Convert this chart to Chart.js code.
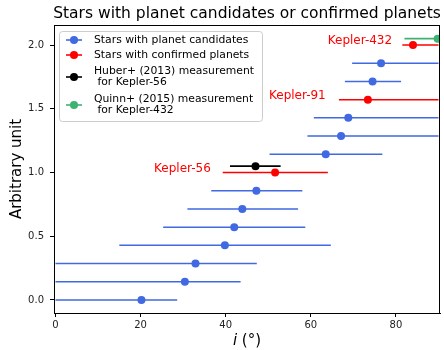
<!DOCTYPE html>
<html>
<head>
<meta charset="utf-8">
<script src="https://cdn.jsdelivr.net/npm/chart.js@4"></script>
<style>
  body { margin: 0; background: #fff; }
  #wrap { width: 444px; height: 350px; }
</style>
</head>
<body>
<div id="wrap"><canvas id="chartStars" width="444" height="350"></canvas></div>
<script>
// stars with planet candidates
var candRow = [0.0, 0.143, 0.286, 0.429, 0.571, 0.714, 0.857, 1.143, 1.286, 1.429, 1.714, 1.857];
var candInc = [20.2, 30.4, 32.9, 39.8, 42.0, 43.9, 47.2, 63.5, 67.1, 68.8, 74.5, 76.5];
var candLow = [0, 0, 0, 15.0, 25.3, 31.0, 36.6, 50.3, 59.2, 60.7, 68.0, 69.7];
var candHigh = [28.6, 43.5, 47.3, 64.7, 58.7, 57.0, 58.0, 76.8, 90, 90, 81.2, 90];

// stars with confirmed planets
var confNames = ['Kepler-56', 'Kepler-91', 'Kepler-432'];
var confRow = [1.0, 1.571, 2.0];
var confInc = [51.6, 73.4, 84.0];
var confLow = [39.3, 66.6, 81.5];
var confHigh = [64.0, 90, 90];

// Huber+ (2013), Kepler-56
var huberRow = [1.05];
var huberInc = [47.0];
var huberLow = [41.0];
var huberHigh = [52.9];

// Quinn+ (2015), Kepler-432
var quinnRow = [2.05];
var quinnInc = [89.8];
var quinnLow = [82.0];
var quinnHigh = [90];

var xTicks = [0, 20, 40, 60, 80];
var yTicks = [0, 0.5, 1.0, 1.5, 2.0];

var FONT = 'DejaVu Sans';

function pts(xs, ys, lo, hi){
    return xs.map(function(x, i){ return {x: x, y: ys[i], lo: lo[i], hi: hi[i]}; });
}

var series = [
    {label: 'Stars with planet candidates', color: '#4169e1', data: pts(candInc, candRow, candLow, candHigh)},
    {label: 'Stars with confirmed planets', color: '#ff0000', data: pts(confInc, confRow, confLow, confHigh)},
    {label: 'Huber+ (2013) measurement\n for Kepler-56', color: '#000000', data: pts(huberInc, huberRow, huberLow, huberHigh)},
    {label: 'Quinn+ (2015) measurement\n for Kepler-432', color: '#3cb371', data: pts(quinnInc, quinnRow, quinnLow, quinnHigh)}
];

// where the red names sit (right end of text, data coords)
var nameAnchorX = [36.5, 63.5, 79.1];

var errorBars = {
    id: 'errorBars',
    beforeDatasetsDraw: function(chart){
        var c = chart.ctx, a = chart.chartArea;
        var xs = chart.scales.x, ys = chart.scales.y;
        c.save();
        c.beginPath();
        c.rect(a.left, a.top, a.right - a.left, a.bottom - a.top);
        c.clip();
        c.lineWidth = 1.6;
        series.forEach(function(s){
            c.strokeStyle = s.color;
            s.data.forEach(function(p){
                var py = ys.getPixelForValue(p.y);
                c.beginPath();
                c.moveTo(xs.getPixelForValue(p.lo), py);
                c.lineTo(xs.getPixelForValue(p.hi), py);
                c.stroke();
            });
        });
        c.restore();
    },
    afterDraw: function(chart){
        var c = chart.ctx, a = chart.chartArea;
        var xs = chart.scales.x, ys = chart.scales.y;
        c.save();
        // frame
        c.strokeStyle = '#000';
        c.lineWidth = 1;
        c.strokeRect(Math.round(a.left) + 0.5, Math.round(a.top) + 0.5,
            Math.round(a.right - a.left) - 1, Math.round(a.bottom - a.top));

        // title
        c.fillStyle = '#000';
        c.font = '15.5px "' + FONT + '"';
        c.textAlign = 'center';
        c.textBaseline = 'middle';
        c.fillText('Stars with planet candidates or confirmed planets', (a.left + a.right) / 2, 14);

        // axis titles
        c.font = '15px "' + FONT + '"';
        c.save();
        c.translate(17, (a.top + a.bottom) / 2);
        c.rotate(-Math.PI / 2);
        c.fillText('Arbitrary unit', 0, 0);
        c.restore();

        var cx = (a.left + a.right) / 2;
        c.textAlign = 'left';
        c.font = 'italic 15px "' + FONT + '"';
        var wi = c.measureText('i').width;
        c.font = '15px "' + FONT + '"';
        var wr = c.measureText(' (°)').width;
        var sx = cx - (wi + wr) / 2;
        c.font = 'italic 15px "' + FONT + '"';
        c.fillText('i', sx, 341);
        c.font = '15px "' + FONT + '"';
        c.fillText(' (°)', sx + wi, 341);

        // names of confirmed systems
        c.fillStyle = '#ff0000';
        c.font = '12px "' + FONT + '"';
        c.textAlign = 'right';
        confNames.forEach(function(n, i){
            c.fillText(n, xs.getPixelForValue(nameAnchorX[i]), ys.getPixelForValue(confRow[i] + 0.03));
        });

        // legend
        var lx = 59, ly = 31, lw = 203, lh = 90;
        c.fillStyle = 'rgba(255,255,255,0.85)';
        c.strokeStyle = '#cccccc';
        c.lineWidth = 1;
        c.beginPath();
        c.roundRect(lx + 0.5, ly + 0.5, lw, lh, 3);
        c.fill();
        c.stroke();
        var rows = [40, 55, 77, 105];
        c.font = '10.8px "' + FONT + '"';
        c.textAlign = 'left';
        series.forEach(function(s, i){
            var cy = rows[i];
            var lines = s.label.split('\n');
            c.strokeStyle = s.color;
            c.fillStyle = s.color;
            c.lineWidth = 1.6;
            c.beginPath();
            c.moveTo(66, cy);
            c.lineTo(82, cy);
            c.stroke();
            c.beginPath();
            c.arc(74, cy, 4, 0, Math.PI * 2);
            c.fill();
            c.fillStyle = '#000';
            if (lines.length === 1) {
                c.fillText(lines[0], 94, cy);
            } else {
                c.fillText(lines[0], 94, cy - 5.5);
                c.fillText(lines[1], 94, cy + 5.5);
            }
        });
        c.restore();
    }
};

var chartStars = new Chart(document.getElementById('chartStars'), {
    type: 'scatter',
    data: {
        datasets: series.map(function(s){
            return {
                label: s.label,
                data: s.data,
                backgroundColor: s.color,
                borderColor: s.color,
                pointRadius: 4,
                pointHoverRadius: 4,
                borderWidth: 0,
                clip: 0
            };
        })
    },
    options: {
        responsive: false,
        animation: false,
        events: [],
        layout: {padding: {top: 25, right: 4, left: 0, bottom: 0}},
        plugins: {legend: {display: false}, tooltip: {enabled: false}, title: {display: false}},
        scales: {
            x: {
                type: 'linear',
                min: -0.35,
                max: 90.35,
                afterBuildTicks: function(s){ s.ticks = xTicks.map(function(v){ return {value: v}; }); },
                afterFit: function(s){ s.height = 37; },
                grid: {drawOnChartArea: false, tickLength: 4, color: '#000'},
                border: {color: '#000'},
                ticks: {color: '#222', font: {family: FONT, size: 10}, padding: 2, maxRotation: 0}
            },
            y: {
                min: -0.102,
                max: 2.157,
                afterBuildTicks: function(s){ s.ticks = yTicks.map(function(v){ return {value: v}; }); },
                afterFit: function(s){ s.width = 54; },
                grid: {drawOnChartArea: false, tickLength: 4, color: '#000'},
                border: {color: '#000'},
                ticks: {color: '#222', font: {family: FONT, size: 10}, padding: 6,
                    callback: function(v){ return Number(v).toFixed(1); }}
            }
        }
    },
    plugins: [errorBars]
});
</script>
</body>
</html>
